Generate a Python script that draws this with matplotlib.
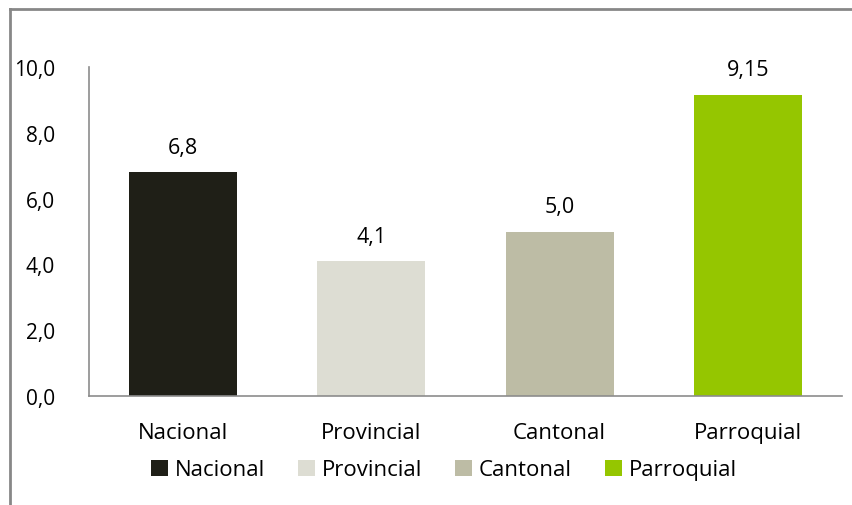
import matplotlib.pyplot as plt
from matplotlib.lines import Line2D

categories = ['Nacional', 'Provincial', 'Cantonal', 'Parroquial']
values = [6.8, 4.1, 5.0, 9.15]
value_labels = ['6,8', '4,1', '5,0', '9,15']
colors = ['#1f1f17', '#ddddd3', '#bdbca5', '#95c600']
yticks = [0, 2, 4, 6, 8, 10]

plt.rcParams['font.family'] = ['Open Sans', 'DejaVu Sans']

fig = plt.figure(figsize=(8.53, 5.06), dpi=100)
ax = fig.add_axes([89 / 853, 109 / 506, 753 / 853, 329 / 506])

x = range(len(categories))
bars = ax.bar(x, values, width=0.575, color=colors, label=categories)

for xi, v, lab in zip(x, values, value_labels):
    ax.annotate(lab, (xi, v), xytext=(0, 18), textcoords='offset points',
                ha='center', va='center', fontsize=15.5, color='black')

ax.set_xlim(-0.5, 3.5)
ax.set_ylim(0, 10)
ax.set_yticks(yticks)
ax.yaxis.set_major_formatter(plt.FuncFormatter(lambda v, p: ('%.1f' % v).replace('.', ',')))
ax.set_xticks(list(x))
ax.set_xticklabels(categories)
ax.tick_params(axis='both', length=0, labelsize=15, colors='black')
ax.tick_params(axis='x', labelsize=16, pad=19)
ax.tick_params(axis='y', pad=24.5)

for s in ['top', 'right']:
    ax.spines[s].set_visible(False)
for s in ['left', 'bottom']:
    ax.spines[s].set_color('#8c8c8c')
    ax.spines[s].set_linewidth(1.2)

fig.legend(handles=bars, labels=categories, loc='center', bbox_to_anchor=(444 / 853, 1 - 471 / 506),
           ncol=4, frameon=False, fontsize=16, handlelength=0.75, handleheight=0.75,
           handletextpad=0.3, columnspacing=1.5)

# outer frame (only top and left edges visible)
fig.add_artist(Line2D([10 / 853, 1], [1 - 10 / 506, 1 - 10 / 506], transform=fig.transFigure,
                      color='#878787', linewidth=2))
fig.add_artist(Line2D([10 / 853, 10 / 853], [0, 1 - 10 / 506], transform=fig.transFigure,
                      color='#878787', linewidth=2))

fig.savefig('out.png', dpi=100)
